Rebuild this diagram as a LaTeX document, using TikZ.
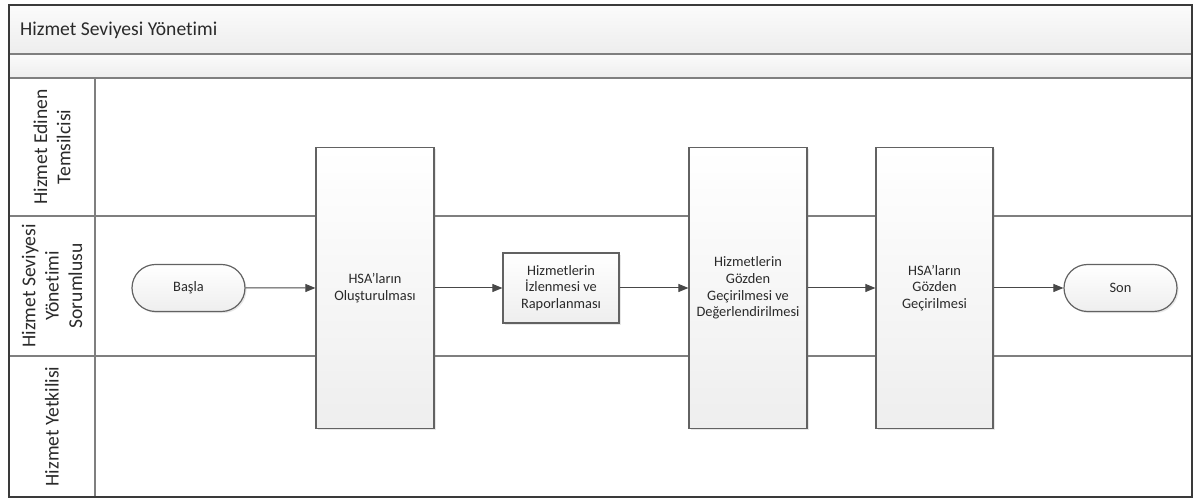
\documentclass[tikz,border=0pt]{standalone}
\usepackage{fontspec}
\setmainfont{Carlito}[Ligatures=NoCommon]
\usetikzlibrary{arrows.meta,shapes.misc,shadows}
\definecolor{boxline}{HTML}{626262}
\definecolor{boxbottom}{HTML}{EEEEEE}
\definecolor{laneline}{HTML}{7F7F7F}
\definecolor{frameline}{HTML}{3A3A3A}
\definecolor{arrowcol}{HTML}{484848}
\definecolor{bandtop}{HTML}{FBFBFB}
\definecolor{bandbottom}{HTML}{EDEDED}
\definecolor{txt}{HTML}{2A2A2A}
\tikzset{
  x=0.5pt, y=-0.5pt,
  procbox/.style={draw=boxline, line width=0.6pt, top color=white, bottom color=boxbottom,
    align=center, font=\fontsize{7.2}{8.4}\selectfont, text=txt, inner sep=1pt,
    drop shadow={opacity=0.18, shadow xshift=0.8pt, shadow yshift=-0.8pt}},
  termbox/.style={procbox, rounded rectangle, minimum width=58.5pt, minimum height=23.5pt},
  lanelabel/.style={rotate=90, align=center, font=\fontsize{9.8}{11.7}\selectfont, text=txt},
  flow/.style={draw=arrowcol, line width=0.5pt, -{Triangle[length=5pt,width=4pt]}},
  laneborder/.style={draw=laneline, line width=0.6pt}
}
\begin{document}
\begin{tikzpicture}
\useasboundingbox (0,0) rectangle (1194,501);
% bands
\shade[top color=bandtop, bottom color=bandbottom] (9,5) rectangle (1192,54);
\shade[top color=bandtop, bottom color=bandbottom] (9,54) rectangle (1192,78);
\draw[laneborder] (9,54) -- (1192,54);
\draw[laneborder] (9,78) -- (1192,78);
% lane dividers
\draw[laneborder] (9,216) -- (1192,216);
\draw[laneborder] (9,356) -- (1192,356);
\draw[laneborder] (95,78) -- (95,497);
% outer frame
\draw[frameline, line width=1.1pt] (9,5) rectangle (1192,497);
% title
\node[anchor=west, font=\fontsize{9.8}{11.7}\selectfont, text=txt] (title) at (13,30) {Hizmet Seviyesi Yönetimi};
% lane labels
\node[lanelabel] (lane1) at (52,147) {Hizmet Edinen\\Temsilcisi};
\node[lanelabel] (lane2) at (52,286) {Hizmet Seviyesi\\Yönetimi\\Sorumlusu};
\node[lanelabel] (lane3) at (52,426.5) {Hizmet Yetkilisi};
% nodes
\node[termbox] (basla) at (188.5,288) {Başla};
\node[procbox, minimum width=59pt, minimum height=140.5pt] (hsa1) at (375,288) {HSA’ların\\Oluşturulması};
\node[procbox, minimum width=58pt, minimum height=35pt] (izl) at (561,288) {Hizmetlerin\\İzlenmesi ve\\Raporlanması};
\node[procbox, minimum width=59pt, minimum height=140.5pt] (gozden) at (748,288) {Hizmetlerin\\Gözden\\Geçirilmesi ve\\Değerlendirilmesi};
\node[procbox, minimum width=58.5pt, minimum height=140.5pt] (hsa2) at (934.5,288) {HSA’ların\\Gözden\\Geçirilmesi};
\node[termbox] (son) at (1120.5,288) {Son};
% connectors
\draw[flow] (basla) -- (hsa1);
\draw[flow] (hsa1) -- (izl);
\draw[flow] (izl) -- (gozden);
\draw[flow] (gozden) -- (hsa2);
\draw[flow] (hsa2) -- (son);
\end{tikzpicture}
\end{document}
